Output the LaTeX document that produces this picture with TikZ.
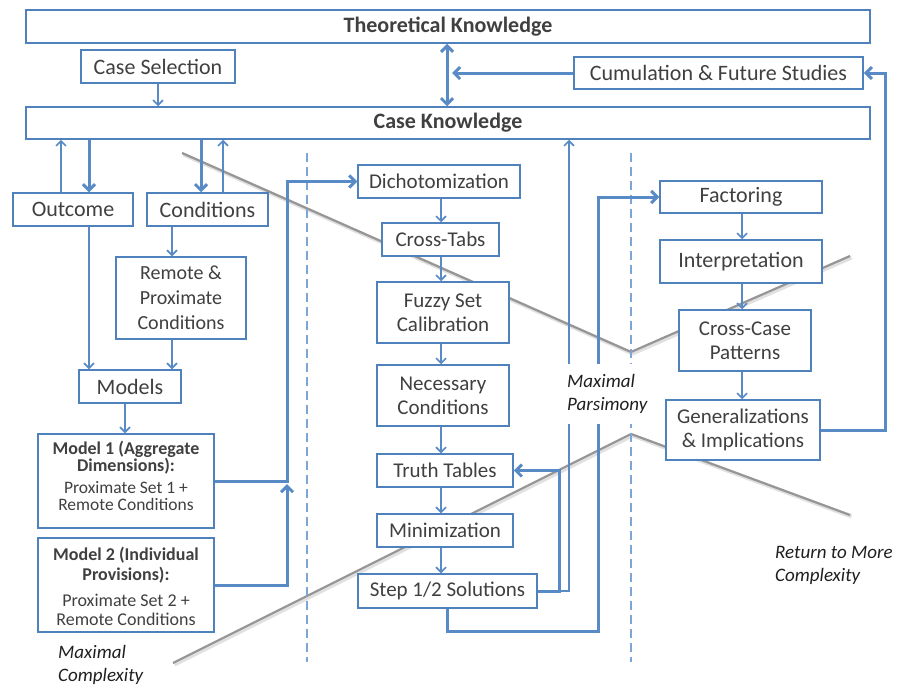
\documentclass[tikz,border=0pt]{standalone}
\usepackage{fontspec}
\setmainfont{Carlito}
\usetikzlibrary{arrows.meta}

\definecolor{boxblue}{RGB}{79,129,189}
\definecolor{linkblue}{RGB}{88,138,198}
\definecolor{dashblue}{RGB}{125,166,214}
\definecolor{txtgray}{RGB}{64,64,64}
\definecolor{guide}{RGB}{150,150,150}

\tikzset{
  stage/.style={draw=boxblue, line width=1.5pt, fill=white, text=txtgray,
    inner sep=0pt, align=center, font=\fontsize{21}{24}\selectfont},
  headline/.style={stage, font=\bfseries\fontsize{22}{26}\selectfont},
  bigstage/.style={stage, font=\fontsize{22}{24}\selectfont},
  modeltext/.style={text=txtgray, inner sep=0pt, align=center},
  note/.style={text=black!88, inner sep=0pt, align=left,
    font=\itshape\fontsize{19}{23}\selectfont},
  link/.style={draw=linkblue, line width=1.6pt,
    -{Straight Barb[length=5pt,width=10pt]}},
  flow/.style={draw=linkblue, line width=3pt,
    -{Straight Barb[length=6pt,width=12pt]}},
  twoway/.style={draw=linkblue, line width=3pt,
    {Straight Barb[length=6pt,width=12pt]}-{Straight Barb[length=6pt,width=12pt]}},
  divider/.style={draw=dashblue, line width=1.5pt, dash pattern=on 9pt off 5pt},
  trend/.style={draw=guide, line width=2.2pt, line join=miter},
  trendshade/.style={draw=black!12, line width=4pt, line join=round},
}

\begin{document}
\begin{tikzpicture}[x=1pt,y=-1pt]
\useasboundingbox (0,0) rectangle (901,688);

% trend lines (complexity / parsimony)
\coordinate (ta) at (182,153);
\coordinate (tb) at (631,352);
\coordinate (tc) at (850,256);
\coordinate (ua) at (173,663);
\coordinate (ub) at (631,434);
\coordinate (uc) at (850,515);
\draw[trendshade] ([shift={(1.5,1.5)}]ta) -- ([shift={(1.5,1.5)}]tb) -- ([shift={(1.5,1.5)}]tc);
\draw[trendshade] ([shift={(1.5,1.5)}]ua) -- ([shift={(1.5,1.5)}]ub) -- ([shift={(1.5,1.5)}]uc);
\draw[trend] (ta) -- (tb) -- (tc);
\draw[trend] (ua) -- (ub) -- (uc);

% phase dividers
\coordinate (d1t) at (307,153);
\coordinate (d1b) at (307,662);
\coordinate (d2t) at (631,153);
\coordinate (d2b) at (631,662);
\draw[divider] (d1t) -- (d1b);
\draw[divider] (d2t) -- (d2b);

% top level
\node[headline, minimum width=844, minimum height=33] (theo) at (448,26.5) {Theoretical Knowledge};
\node[bigstage, minimum width=154, minimum height=33] (casesel) at (158,66.5) {Case Selection};
\node[bigstage, minimum width=289, minimum height=32] (cumul) at (718.5,73) {Cumulation \& Future Studies};
\node[headline, minimum width=844, minimum height=32] (caseknow) at (448,123) {Case Knowledge};

% left column
\node[bigstage, minimum width=120, minimum height=33] (outcome) at (73,209.5) {Outcome};
\node[bigstage, minimum width=121, minimum height=33] (cond) at (207.5,209.5) {Conditions};
\node[stage, font=\fontsize{20}{25}\selectfont, minimum width=130, minimum height=82] (remprox) at (181,298) {Remote \&\\Proximate\\Conditions};
\node[bigstage, minimum width=102, minimum height=33] (models) at (130,386.5) {Models};
\node[stage, minimum width=176, minimum height=94] (m1) at (126,481) {};
\node[modeltext, font=\bfseries\fontsize{18}{17}\selectfont] (m1a) at (126,458) {Model 1 (Aggregate\\Dimensions):};
\node[modeltext, font=\fontsize{17.5}{16.5}\selectfont] (m1b) at (126,496) {Proximate Set 1 +\\Remote Conditions};
\node[stage, minimum width=176, minimum height=94] (m2) at (126,585) {};
\node[modeltext, font=\bfseries\fontsize{18}{20}\selectfont] (m2a) at (126,565) {Model 2 (Individual\\Provisions):};
\node[modeltext, font=\fontsize{18}{19}\selectfont] (m2b) at (126,610) {Proximate Set 2 +\\Remote Conditions};

% middle column
\node[stage, minimum width=162, minimum height=33] (dicho) at (439,181.5) {Dichotomization};
\node[stage, minimum width=117, minimum height=33] (cross) at (440.5,239.5) {Cross-Tabs};
\node[stage, minimum width=132, minimum height=61] (fuzzy) at (443,312.5) {Fuzzy Set\\Calibration};
\node[stage, minimum width=132, minimum height=61] (necess) at (443,395.5) {Necessary\\Conditions};
\node[stage, minimum width=136, minimum height=33] (truth) at (445,470.5) {Truth Tables};
\node[stage, minimum width=136, minimum height=33] (minim) at (445,530.5) {Minimization};
\node[stage, minimum width=179, minimum height=34] (step) at (447.5,591) {Step 1/2 Solutions};

% right column
\node[bigstage, minimum width=162, minimum height=32] (factor) at (741,197) {Factoring};
\node[bigstage, minimum width=162, minimum height=43] (interp) at (741,261.5) {Interpretation};
\node[stage, minimum width=132, minimum height=61] (crosscase) at (745,340.5) {Cross-Case\\Patterns};
\node[stage, minimum width=154, minimum height=60] (general) at (743,430) {Generalizations\\\& Implications};

% column positions of the connectors
\coordinate (xa) at (61,0);
\coordinate (xb) at (89,0);
\coordinate (xc) at (201,0);
\coordinate (xd) at (223,0);
\coordinate (xe) at (172,0);
\coordinate (xf) at (125,0);
\coordinate (xg) at (158,0);
\coordinate (xh) at (447,0);
\coordinate (xi) at (452,0);
\coordinate (xm) at (441,0);
\coordinate (xr) at (742,0);
\coordinate (j1) at (287,0);
\coordinate (jm) at (287,484);
\coordinate (loopA) at (559,470.5);
\coordinate (loopB) at (569,0);
\coordinate (loopC) at (598,631);
\coordinate (loopD) at (885,0);

% knowledge links
\draw[link] (casesel.south -| xg) -- (caseknow.north -| xg);
\draw[twoway] (theo.south -| xh) -- (caseknow.north -| xh);
\draw[flow] (cumul.west) -- (cumul.west -| xi);

% left column links
\draw[flow] (caseknow.south -| xb) -- (outcome.north -| xb);
\draw[link] (outcome.north -| xa) -- (caseknow.south -| xa);
\draw[flow] (caseknow.south -| xc) -- (cond.north -| xc);
\draw[link] (cond.north -| xd) -- (caseknow.south -| xd);
\draw[link] (cond.south -| xe) -- (remprox.north -| xe);
\draw[link] (outcome.south -| xb) -- (models.north -| xb);
\draw[link] (remprox.south -| xe) -- (models.north -| xe);
\draw[link] (models.south -| xf) -- (m1.north -| xf);
\draw[flow] (m1.east) -- (m1.east -| j1) |- (dicho.west);
\draw[flow] (m2.east) -| (jm);

% middle column links
\draw[link] (dicho.south -| xm) -- (cross.north -| xm);
\draw[link] (cross.south -| xm) -- (fuzzy.north -| xm);
\draw[link] (fuzzy.south -| xm) -- (necess.north -| xm);
\draw[link] (necess.south -| xm) -- (truth.north -| xm);
\draw[link] (truth.south -| xm) -- (minim.north -| xm);
\draw[link] (minim.south -| xm) -- (step.north -| xm);
\draw[link] (step.east) -- (step.east -| loopB) -- (loopB |- caseknow.south);
\draw[flow] (step.east) -| (loopA) -- (truth.east);
\draw[flow] (step.south) |- (loopC) |- (factor.west);

% right column links
\draw[link] (factor.south -| xr) -- (interp.north -| xr);
\draw[link] (interp.south -| xr) -- (crosscase.north -| xr);
\draw[link] (crosscase.south -| xr) -- (general.north -| xr);
\draw[flow] (general.east) -- (general.east -| loopD) |- (cumul.east);

% annotations
\node[note, fill=white, anchor=west, minimum height=60, inner xsep=3pt] (parsi) at (564,394) {Maximal\\Parsimony};
\node[note, anchor=west] (cmplx) at (58,665) {Maximal\\Complexity};
\node[note, anchor=west] (retn) at (775,565) {Return to More\\Complexity};
\end{tikzpicture}
\end{document}
